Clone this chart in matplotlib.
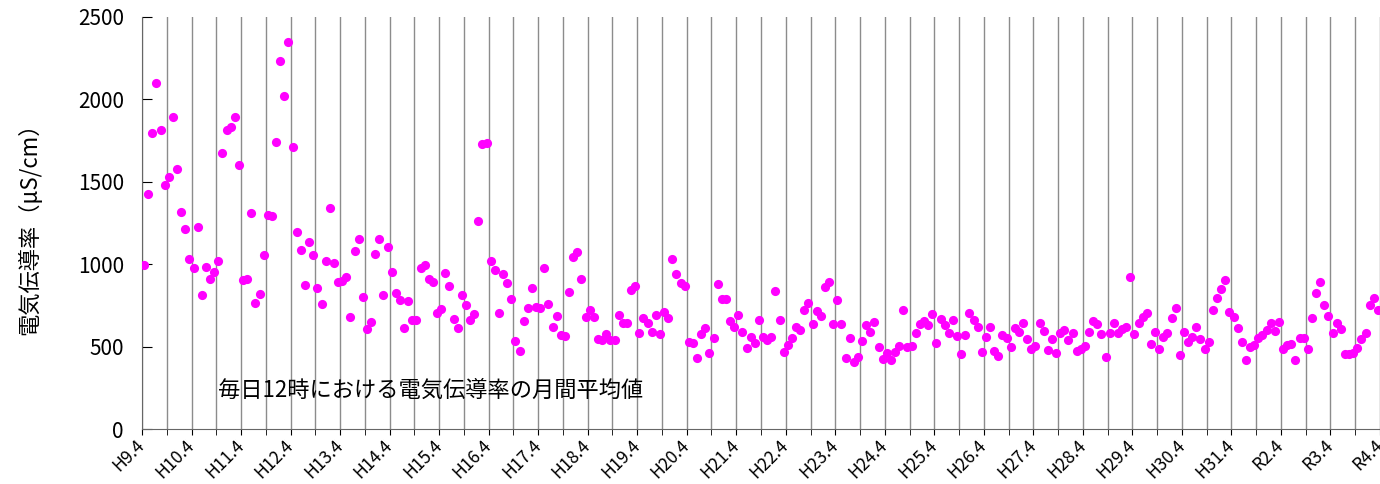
import numpy as np
import matplotlib.pyplot as plt

plt.rcParams['font.family'] = ['Noto Sans CJK JP', 'DejaVu Sans']

# 年度ラベル（4月始まり）
year_labels = ['H9.4', 'H10.4', 'H11.4', 'H12.4', 'H13.4', 'H14.4', 'H15.4',
               'H16.4', 'H17.4', 'H18.4', 'H19.4', 'H20.4', 'H21.4', 'H22.4',
               'H23.4', 'H24.4', 'H25.4', 'H26.4', 'H27.4', 'H28.4', 'H29.4',
               'H30.4', 'H31.4', 'R2.4', 'R3.4', 'R4.4']

# 毎日12時の電気伝導率 月間平均値 (uS/cm), H9.4 から
ec_monthly = [
    995, 1424, 1794, 2098, 1814, 1480, 1531, 1895, 1576, 1317, 1212, 1030,
    975, 1228, 813, 981, 908, 953, 1021, 1673, 1814, 1830, 1895, 1600,
    904, 912, 1308, 763, 817, 1054, 1299, 1292, 1744, 2235, 2021, 2346,
    1713, 1197, 1084, 876, 1133, 1056, 854, 759, 1017, 1339, 1007, 892,
    900, 924, 681, 1082, 1151, 799, 607, 649, 1062, 1155, 813, 1104,
    951, 825, 781, 615, 775, 661, 661, 979, 993, 912, 890, 706,
    730, 945, 868, 665, 611, 813, 750, 661, 698, 1264, 1729, 1733,
    1021, 965, 706, 938, 884, 789, 534, 475, 653, 732, 857, 742,
    736, 977, 760, 620, 688, 570, 566, 833, 1042, 1074, 910, 681,
    722, 678, 546, 540, 578, 540, 540, 694, 645, 645, 843, 868,
    580, 672, 645, 587, 692, 574, 712, 676, 1034, 940, 884, 868,
    530, 520, 431, 578, 613, 463, 550, 880, 791, 791, 657, 617,
    690, 587, 493, 556, 520, 663, 560, 540, 560, 839, 661, 469,
    510, 552, 621, 601, 722, 763, 635, 714, 686, 860, 890, 637,
    785, 637, 429, 554, 408, 439, 531, 631, 590, 649, 500, 427,
    463, 417, 469, 502, 722, 500, 504, 580, 637, 657, 629, 698,
    520, 667, 629, 584, 661, 564, 455, 570, 702, 661, 621, 469,
    560, 617, 475, 443, 570, 550, 500, 611, 590, 645, 546, 485,
    504, 641, 597, 479, 546, 461, 580, 601, 540, 580, 473, 487,
    504, 587, 657, 635, 576, 439, 584, 641, 584, 605, 617, 922,
    576, 641, 678, 702, 514, 589, 487, 556, 585, 672, 736, 447,
    589, 530, 560, 621, 544, 487, 528, 720, 797, 851, 906, 710,
    678, 611, 528, 419, 500, 508, 552, 568, 601, 641, 597, 647,
    487, 510, 514, 419, 554, 554, 483, 672, 827, 894, 752, 688,
    580, 645, 605, 455, 455, 459, 493, 546, 584, 750, 797, 722,
]

months = np.arange(len(ec_monthly)) + 0.5

fig = plt.figure(figsize=(13.8, 4.84), dpi=100)
ax = fig.add_axes([142 / 1380, 55 / 484, 1238 / 1380, 412 / 484])

ax.plot(months, ec_monthly, 'o', color='#ff00ff', markersize=6.6,
        markeredgewidth=0, zorder=3)

ax.set_xlim(0, 300)
ax.set_ylim(0, 2500)
ax.set_yticks(np.arange(0, 2501, 500))

ax.set_xticks(np.arange(0, 301, 12))
ax.set_xticklabels(year_labels, rotation=45, ha='right', va='center',
                   rotation_mode='anchor', fontsize=12.5)
ax.set_xticks(np.arange(6, 300, 12), minor=True)
ax.grid(axis='x', which='both', color='#8c8c8c', linewidth=1)

ax.tick_params(axis='y', direction='in', length=7, labelsize=15, pad=13)
ax.tick_params(axis='x', which='both', direction='out', length=4, pad=6)

for side in ['top', 'right']:
    ax.spines[side].set_visible(False)
ax.spines['left'].set_color('#666666')
ax.spines['bottom'].set_color('#666666')

ax.set_ylabel('電気伝導率（μS/cm）', fontsize=16, labelpad=26)
ax.text(76 / 1238, 39 / 412, '毎日12時における電気伝導率の月間平均値',
        transform=ax.transAxes, fontsize=16, va='center', ha='left')

fig.savefig('out.png', dpi=100)
